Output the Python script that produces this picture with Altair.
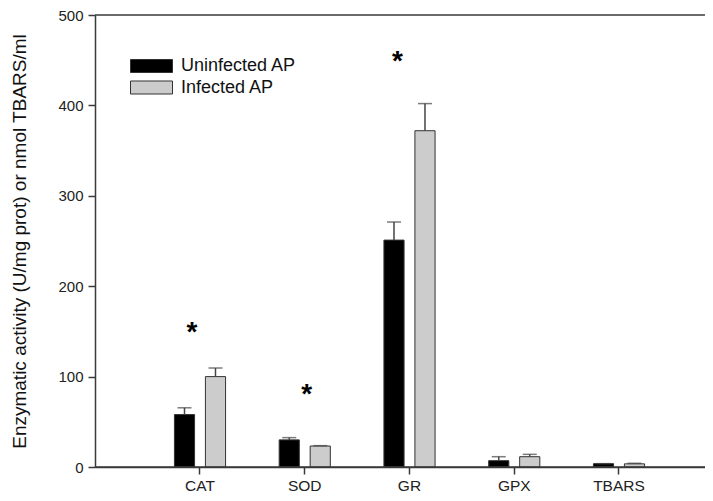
import altair as alt
import pandas as pd

categories = ["CAT", "SOD", "GR", "GPX", "TBARS"]
groups = ["Uninfected AP", "Infected AP"]
uninfected = [58, 30, 251, 7, 3.7]
uninfected_err = [7.5, 2.5, 20, 4.4, 0]
infected = [100, 23.2, 372, 11.4, 3.5]
infected_err = [9.5, 0.4, 30, 2.6, 0.6]
star_cats = ["CAT", "SOD", "GR"]
star_y = [148, 80, 448]
star_dx = [-8, 2, -12]

rows = []
for c, v, e in zip(categories, uninfected, uninfected_err):
    rows.append({"cat": c, "group": groups[0], "value": v, "upper": v + e})
for c, v, e in zip(categories, infected, infected_err):
    rows.append({"cat": c, "group": groups[1], "value": v, "upper": v + e})
df = pd.DataFrame(rows)
stars = pd.DataFrame({"cat": star_cats, "y": star_y})

W, H = 610, 452
axis_color = "#3a3a3a"

xscale = alt.Scale(domain=categories, paddingInner=0.5, paddingOuter=0.6617, align=0.5685)
yscale = alt.Scale(domain=[0, 500], nice=False)
offscale = alt.Scale(domain=groups, paddingInner=0.35, paddingOuter=0.02)

x = alt.X("cat:N", scale=xscale, sort=categories, title=None,
          axis=alt.Axis(labelAngle=0, labelFontSize=15.5, labelColor="#222", labelFont="Liberation Sans",
                        labelPadding=4, tickSize=7, tickWidth=1.5, tickColor=axis_color,
                        domainColor=axis_color, domainWidth=1.5, grid=False))
y = alt.Y("value:Q", scale=yscale,
          title="Enzymatic activity (U/mg prot) or nmol TBARS/ml",
          axis=alt.Axis(values=[0, 100, 200, 300, 400, 500], labelFontSize=15, labelColor="#222",
                        labelFont="Liberation Sans", labelPadding=5, tickSize=7, tickWidth=1.5,
                        tickColor=axis_color, domainColor=axis_color, domainWidth=1.5, grid=False,
                        titleFont="Liberation Sans", titleFontSize=19, titleFontWeight="normal",
                        titleColor="#111", titlePadding=28))
xoff = alt.XOffset("group:N", scale=offscale, sort=groups)

bars = alt.Chart(df).mark_bar(stroke="#333", strokeWidth=1).encode(
    x=x, xOffset=xoff, y=y,
    color=alt.Color("group:N", sort=groups,
                    scale=alt.Scale(domain=groups, range=["#000000", "#cccccc"]),
                    legend=alt.Legend(title=None, orient="none", legendX=35, legendY=40,
                                      symbolType="M-1,-0.62H3V0.62H-1Z", symbolSize=441,
                                      symbolStrokeColor="#333", symbolStrokeWidth=1,
                                      labelFontSize=18, labelFont="Liberation Sans",
                                      labelColor="#111", labelOffset=29, rowPadding=1.5,
                                      padding=0)),
)

err_base = alt.Chart(df).encode(x=alt.X("cat:N", scale=xscale, sort=categories), xOffset=xoff)
err_line = err_base.mark_rule(color="#444", strokeWidth=1.5).encode(
    y=alt.Y("value:Q", scale=yscale), y2="upper:Q")
err_cap = err_base.mark_tick(color="#444", thickness=1.5, size=14).encode(
    y=alt.Y("upper:Q", scale=yscale))

frame = alt.Chart(pd.DataFrame({"v": [0, 500]})).mark_rule(color=axis_color, strokeWidth=1.5).encode(
    y=alt.Y("v:Q", scale=yscale), x=alt.value(0), x2=alt.value(W))

star_layers = []
for c, d in zip(star_cats, star_dx):
    star_layers.append(
        alt.Chart(stars).transform_filter(alt.datum.cat == c).mark_text(
            text="*", fontSize=28, font="Liberation Sans", fontWeight="bold",
            color="#000", dx=d, baseline="middle").encode(
            x=alt.X("cat:N", scale=xscale, sort=categories), y=alt.Y("y:Q", scale=yscale))
    )

chart = alt.layer(bars, err_line, err_cap, frame, *star_layers).properties(
    width=W, height=H,
    autosize=alt.AutoSizeParams(type="none"),
    padding={"left": 87, "top": 7, "right": 0, "bottom": 26},
    background="white",
).configure_view(stroke=None)

chart.save("out.html", embed_options={"renderer": "svg", "actions": False})
